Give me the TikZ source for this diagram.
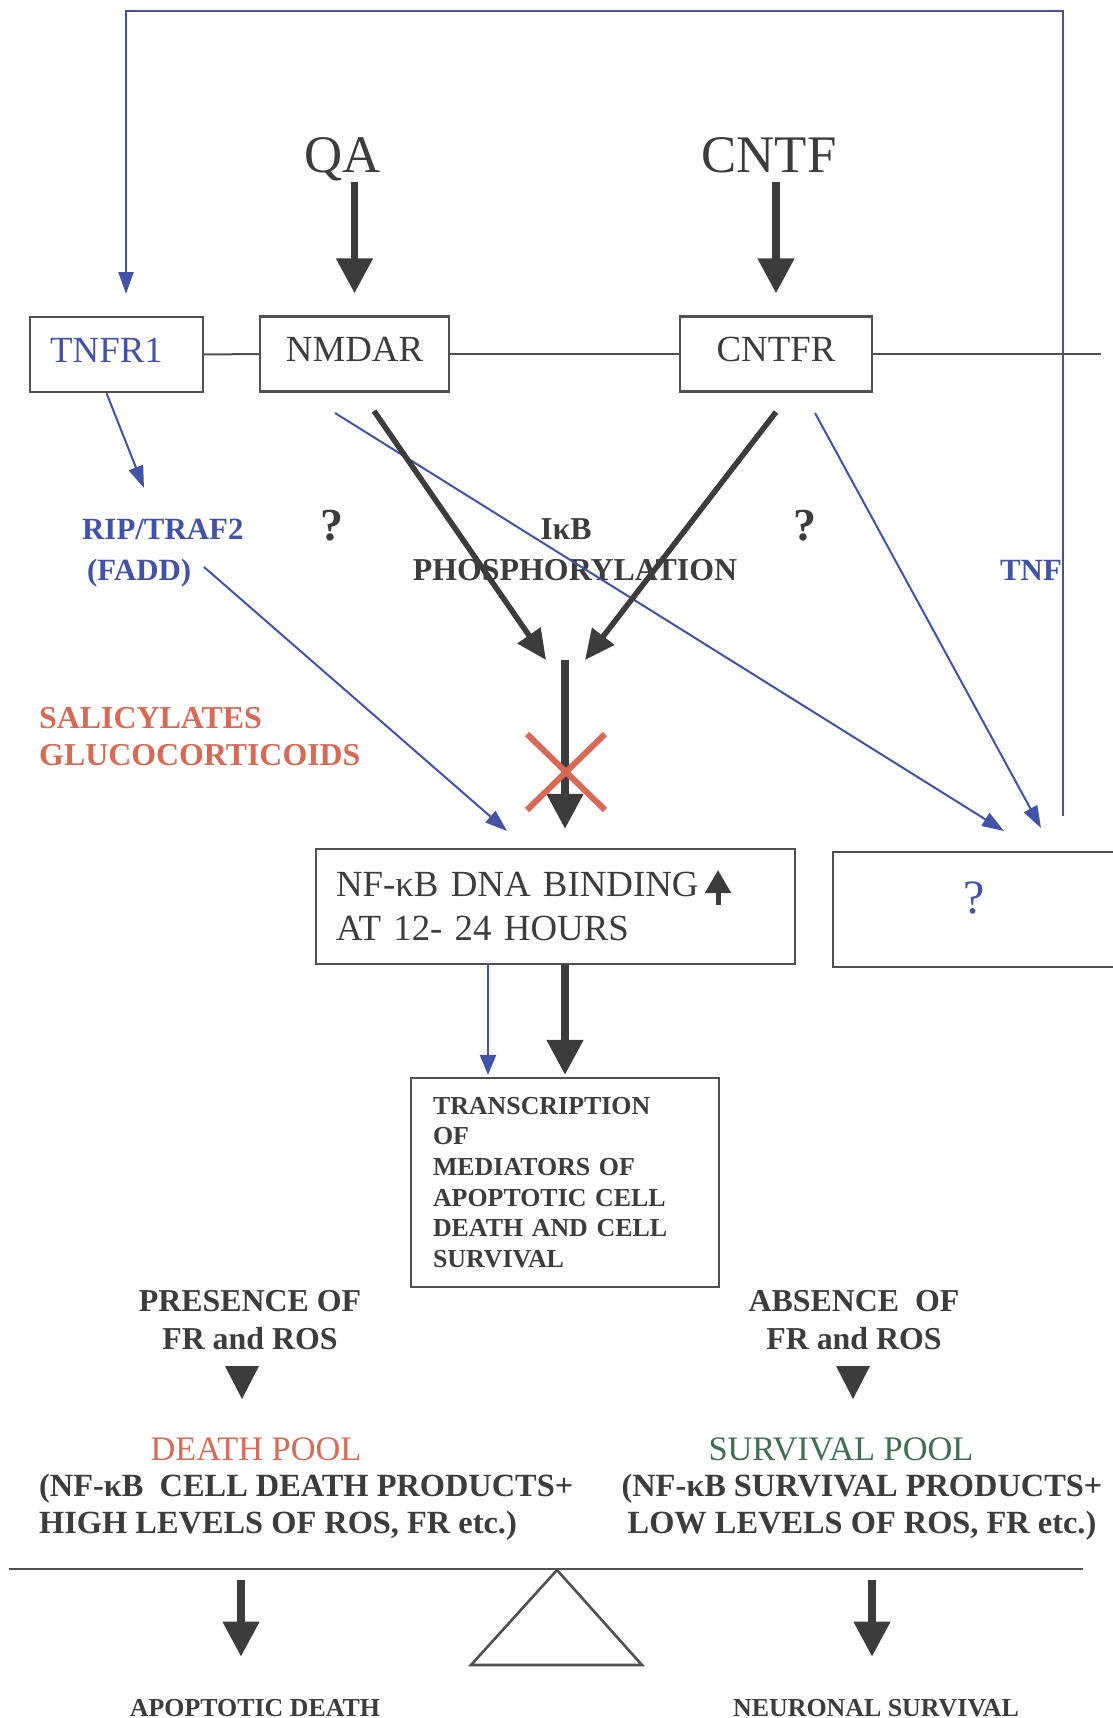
\documentclass[tikz,border=0pt]{standalone}
\usepackage{fontspec}
\setmainfont{Liberation Serif}
\usetikzlibrary{arrows.meta}

\definecolor{ink}{RGB}{60,60,60}
\definecolor{rule}{RGB}{80,80,80}
\definecolor{tblue}{RGB}{66,82,166}
\definecolor{salmon}{RGB}{214,106,86}
\definecolor{pine}{RGB}{64,110,80}

\newcommand{\setfs}[2]{\fontsize{#1}{#2}\selectfont}

\tikzstyle{box}=[draw=rule, line width=2.2bp, inner sep=0pt, text=ink,
                 font=\setfs{37}{44}]
\tikzstyle{receptor}=[box, minimum height=75bp,
                      text height=24.5bp, text depth=9.5bp]
\tikzstyle{lbl}=[inner sep=0pt, anchor=base, text=ink,
                 font=\bfseries\setfs{32}{41}]
\tikzstyle{membrane}=[draw=rule, line width=2bp]
\tikzstyle{beam}=[draw=rule, line width=2.6bp, line join=miter]
\tikzstyle{fat}=[draw=ink, line width=7.5bp,
                 -{Triangle[length=35bp,width=35bp]}]
\tikzstyle{slim}=[draw=ink, line width=5.5bp,
                  -{Triangle[length=30bp,width=27bp]}]
\tikzstyle{blu}=[draw=tblue, line width=2bp,
                 -{Triangle[length=22bp,width=15bp]}]

\begin{document}
\begin{tikzpicture}[x=1bp,y=-1bp]
  \fill[white] (0,0) rectangle (1112,1718);
  \useasboundingbox (0,0) rectangle (1112,1718);

  % ligands
  \node[lbl, font=\setfs{53}{60}] (qa)   at (343,172) {QA};
  \node[lbl, font=\setfs{53}{60}] (cntf) at (769,172) {CNTF};

  % receptors on the membrane
  \node[receptor, minimum width=173bp, text=tblue] (tnfr)  at (116.5,354.5) {TNFR1\hspace*{20bp}};
  \node[receptor, minimum width=189bp]             (nmdar) at (354.5,354)   {NMDAR};
  \node[receptor, minimum width=192bp]             (cntfr) at (776,354)     {CNTFR};
  \coordinate (memend) at (1101,354);

  \draw[membrane] (tnfr.east) -- (nmdar.west);
  \draw[membrane] (nmdar.east) -- (cntfr.west);
  \draw[membrane] (cntfr.east) -- (memend);

  \draw[fat, shorten <=10bp, shorten >=22bp] (qa.base -| nmdar.north) -- (nmdar.north);
  \draw[fat, shorten <=10bp, shorten >=22bp] (cntf.base -| cntfr.north) -- (cntfr.north);

  % middle labels (base = last line)
  \node[lbl, font=\bfseries\setfs{31}{41}, text=tblue, align=left,
        anchor=base west] (rip) at (82,580)
       {RIP/TRAF2\\\hspace{5bp}(FADD)};
  \node[lbl, font=\bfseries\setfs{46}{46}] (q1) at (332,540) {?};
  \node[lbl, font=\bfseries\setfs{46}{46}] (q2) at (805,540) {?};
  \node[lbl, align=center] (ikb) at (575,580) {IκB\hspace*{18bp}\\PHOSPHORYLATION};
  \node[lbl, font=\bfseries\setfs{31}{41}, text=tblue] (tnf) at (1031,580) {TNF};
  \node[lbl, text=salmon, align=left, anchor=base west,
        font=\bfseries\setfs{32}{37}] (drugs) at (39,765)
       {SALICYLATES\\GLUCOCORTICOIDS};

  % NF-kB and the unknown target
  \node[box, minimum width=479bp, minimum height=115bp, text width=439bp,
        align=left] (nfkb) at (555.5,906.5)
       {NF-κB DNA BINDING\\AT 12- 24 HOURS};
  \node[box, minimum width=282bp, minimum height=115bp, text=tblue,
        font=\setfs{48}{50}, text height=32bp, text depth=25bp] (qbox)
       at (974,909.5) {?};
  \node[box, minimum width=308bp, minimum height=209bp, text width=264bp,
        align=left, font=\bfseries\setfs{26}{30.8}] (trans) at (565,1182.5)
       {TRANSCRIPTION\\OF\\MEDIATORS OF\\APOPTOTIC CELL\\DEATH AND CELL\\SURVIVAL};

  \coordinate (upfoot) at (718,905);
  \coordinate (uptip)  at (718,870);
  \draw[draw=ink, line width=5bp, -{Triangle[length=23bp,width=25bp]}] (upfoot) -- (uptip);

  % free ends of the connectors
  \coordinate (fbfoot)   at (1063,816);
  \coordinate (fbcorner) at (126,11);
  \coordinate (fbtip)    at (126,294);
  \coordinate (ripin)    at (144,488);
  \coordinate (ripout)   at (204,567);
  \coordinate (nfkbin)   at (507,831);
  \coordinate (nmblue)   at (335,413);
  \coordinate (nmgrey)   at (374,411);
  \coordinate (cngrey)   at (776,412);
  \coordinate (cnblue)   at (815,413);
  \coordinate (qin1)     at (1004,831);
  \coordinate (qin2)     at (1041,828);
  \coordinate (hub)      at (565,660);
  \coordinate (leak)     at (488,964);

  % TNF loop
  \draw[blu] (fbfoot) |- (fbcorner) -- (fbtip);
  \draw[blu] ([xshift=-10bp]tnfr.south) -- (ripin);
  \draw[blu] (ripout) -- (nfkbin);
  \draw[blu] (nmblue) -- (qin1);
  \draw[blu] (cnblue) -- (qin2);

  % IkB phosphorylation
  \draw[slim] (nmgrey) -- ([xshift=-19bp]hub);
  \draw[slim] (cngrey) -- ([xshift=20bp]hub);
  \draw[fat, shorten >=19bp] (hub) -- (hub |- nfkb.north);

  % blocked by salicylates / glucocorticoids
  \draw[draw=salmon, line width=6bp] (527,734) -- (605,810);
  \draw[draw=salmon, line width=6bp] (527,810) -- (605,734);

  % transcription
  \draw[blu, -{Triangle[length=20bp,width=16bp]}, shorten >=2bp]
       (leak) -- (leak |- trans.north);
  \draw[fat, shorten >=2bp] (nfkb.south -| trans.north) -- (trans.north);

  % the balance
  \node[lbl, align=center, font=\bfseries\setfs{32}{38}] (fr)   at (250,1349) {PRESENCE OF\\FR and ROS};
  \node[lbl, align=center, font=\bfseries\setfs{32}{38}] (nofr) at (854,1349) {ABSENCE\ \ OF\\FR and ROS};
  \fill[ink] (225,1366) -- (259,1366) -- (242,1399) -- cycle;
  \fill[ink] (836,1366) -- (870,1366) -- (853,1399) -- cycle;

  \node[lbl, font=\setfs{34.5}{37}, text=salmon] (dpool) at (256,1460) {DEATH POOL};
  \node[lbl, font=\setfs{34.5}{37}, text=pine]   (spool) at (841,1460) {SURVIVAL POOL};
  \node[lbl, align=left, anchor=base west, font=\bfseries\setfs{32.5}{37}] (dprod) at (39,1533)
       {(NF-κB\ \ CELL DEATH PRODUCTS+\\HIGH LEVELS OF ROS, FR etc.)};
  \node[lbl, align=center, font=\bfseries\setfs{32.5}{37}] (sprod) at (862,1533)
       {(NF-κB SURVIVAL PRODUCTS+\\LOW LEVELS OF ROS, FR etc.)};

  \draw[beam] (9,1569) -- (1083,1569);
  \draw[beam] (557,1570) -- (642,1665) -- (471,1665) -- cycle;

  \node[lbl, font=\bfseries\setfs{26}{30}] (apop) at (255,1716) {APOPTOTIC DEATH};
  \node[lbl, font=\bfseries\setfs{26}{30}] (surv) at (876,1716) {NEURONAL SURVIVAL};
  \coordinate (lpan) at (241,1580);
  \coordinate (rpan) at (872,1580);
  \draw[fat, shorten >=42bp] (lpan) -- (lpan |- apop.north);
  \draw[fat, shorten >=42bp] (rpan) -- (rpan |- surv.north);
\end{tikzpicture}
\end{document}
